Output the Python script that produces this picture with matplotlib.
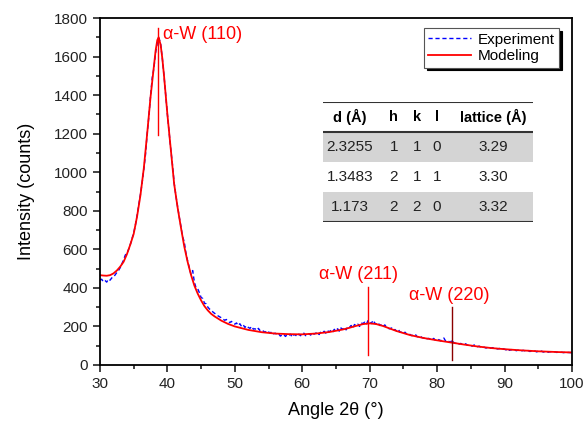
import numpy as np
import matplotlib.pyplot as plt
from matplotlib.patches import Rectangle
from matplotlib.ticker import MultipleLocator

plt.rcParams['font.family'] = ['Liberation Sans', 'DejaVu Sans']

# experiment, 0.25 deg steps from 30 to 100
exp_start, exp_step = 30.0, 0.25
exp_counts = [
    440, 445, 432, 438, 430, 445, 440, 452, 455, 468, 480, 490,
    505, 525, 545, 570, 580, 600, 625, 655, 685, 725, 775, 830,
    885, 945, 1015, 1090, 1200, 1290, 1395, 1490, 1540, 1620, 1670, 1695,
    1665, 1590, 1500, 1400, 1300, 1210, 1120, 1040, 945, 880, 825, 770,
    720, 665, 640, 580, 540, 505, 470, 490, 430, 400, 395, 375,
    350, 345, 320, 318, 300, 290, 285, 275, 268, 262, 255, 250,
    245, 238, 232, 236, 228, 220, 226, 215, 212, 218, 205, 214,
    200, 208, 195, 204, 195, 190, 200, 186, 188, 180, 190, 178,
    182, 175, 170, 178, 172, 165, 174, 162, 165, 158, 162, 150,
    155, 160, 148, 156, 152, 160, 145, 158, 155, 148, 160, 152,
    158, 165, 152, 160, 162, 155, 168, 160, 165, 170, 158, 172,
    168, 175, 165, 178, 172, 180, 170, 185, 178, 188, 175, 192,
    185, 195, 182, 198, 195, 205, 190, 210, 205, 212, 200, 218,
    215, 222, 210, 230, 225, 215, 232, 218, 212, 220, 205, 210,
    200, 208, 195, 190, 188, 192, 180, 184, 176, 185, 170, 172,
    165, 170, 160, 163, 158, 152, 155, 160, 148, 145, 150, 142,
    140, 145, 136, 138, 135, 130, 138, 128, 128, 132, 125, 135,
    140, 125, 120, 122, 118, 130, 115, 112, 115, 108, 112, 106,
    106, 110, 102, 104, 100, 98, 104, 96, 95, 98, 92, 94,
    92, 88, 91, 86, 88, 90, 84, 86, 83, 86, 80, 84,
    82, 78, 84, 76, 80, 76, 78, 74, 77, 75, 72, 76,
    74, 71, 75, 70, 72, 70, 73, 68, 71, 69, 72, 67,
    70, 68, 66, 69, 68, 66, 69, 65, 67, 65, 66, 64,
    66, 64, 65, 64, 65,
]
exp_angle = exp_start + exp_step * np.arange(len(exp_counts))

# fitted model
model_angle = [30, 30.5, 31, 31.5, 32, 32.5, 33, 33.5, 34, 34.5, 35, 35.5, 36, 36.5,
               37, 37.5, 38, 38.25, 38.5, 38.7, 39, 39.25, 39.5, 39.75, 40, 40.5,
               41, 41.5, 42, 42.5, 43, 43.5, 44, 44.5, 45, 45.5, 46, 46.5, 47, 48, 49,
               50, 52, 54, 56, 58, 60, 62, 64, 66, 67, 68, 69, 70, 71, 72, 73,
               74, 76, 78, 80, 82, 84, 86, 88, 90, 92, 95, 98, 100]
model_counts = [466, 464, 463, 466, 475, 490, 510, 535, 575, 625, 680, 770, 880, 1020,
                1200, 1390, 1550, 1630, 1685, 1700, 1660, 1590, 1500, 1400, 1300, 1120,
                940, 820, 715, 615, 535, 468, 412, 370, 335, 305, 283, 265, 252, 230, 213,
                200, 182, 170, 163, 160, 159, 163, 171, 184, 193, 203, 212, 216, 212, 202, 189,
                176, 155, 140, 128, 117, 106, 96, 88, 82, 77, 71, 67, 65]

# peak markers: position, line bottom, line top, label, label position
peak_pos = [38.65, 69.8, 82.2]
peak_lo = [1195, 50, 28]
peak_hi = [1750, 405, 300]
peak_labels = ['α-W (110)', 'α-W (211)', 'α-W (220)']
peak_label_xy = [(39.4, 1712), (62.5, 467), (75.8, 362)]

# table
tab_header = ['d (Å)', 'h', 'k', 'l', 'lattice (Å)']
tab_rows = [['2.3255', '1', '1', '0', '3.29'],
            ['1.3483', '2', '1', '1', '3.30'],
            ['1.173', '2', '2', '0', '3.32']]

fig = plt.figure(figsize=(5.86, 4.25), dpi=100)
ax = fig.add_axes([0.1706, 0.1412, 0.8054, 0.8164])

ax.plot(exp_angle, exp_counts, color='blue', ls=(0, (3, 2)), lw=1, label='Experiment')
ax.plot(model_angle, model_counts, color='red', lw=1.3, label='Modeling')

colors = ['red', 'red', '#8b0000']
for p, lo, hi, lab, xy, c in zip(peak_pos, peak_lo, peak_hi, peak_labels, peak_label_xy, colors):
    ax.plot([p, p], [lo, hi], color=c, lw=1)
    ax.text(xy[0], xy[1], lab, color='red', fontsize=13, va='center', ha='left')

ax.set_xlim(30, 100)
ax.set_ylim(0, 1800)
ax.xaxis.set_major_locator(MultipleLocator(10))
ax.xaxis.set_minor_locator(MultipleLocator(5))
ax.yaxis.set_major_locator(MultipleLocator(200))
ax.yaxis.set_minor_locator(MultipleLocator(100))
ax.tick_params(which='both', direction='out', labelsize=11, width=1.2, colors='#222222')
ax.tick_params(which='major', length=5)
ax.tick_params(which='minor', length=3)
for s in ax.spines.values():
    s.set_linewidth(1.3)
ax.set_xlabel('Angle 2θ (°)', fontsize=13, labelpad=8)
ax.set_ylabel('Intensity (counts)', fontsize=13, labelpad=14)

leg = ax.legend(loc='upper right', bbox_to_anchor=(0.9725, 0.971), borderaxespad=0,
                fancybox=False, shadow={'color': 'black', 'alpha': 1}, framealpha=1,
                edgecolor='#555555', fontsize=11, handlelength=2.8, handletextpad=0.4,
                labelspacing=0.15, borderpad=0.3)
leg.get_frame().set_linewidth(0.8)

# table drawn in its own inset
tax = fig.add_axes([0.551, 0.4776, 0.3584, 0.2824])
tax.set_xlim(0, 1)
tax.set_ylim(0, 1)
tax.axis('off')
col_x = [0.129, 0.338, 0.448, 0.543, 0.81]
for i in (0, 2):
    y0 = 0.5 - 0.25 * i
    tax.add_patch(Rectangle((0, y0), 1, 0.25, color='#d4d4d4', lw=0))
tax.axhline(1.0, color='#333333', lw=1.5)
tax.axhline(0.75, color='#333333', lw=1.5)
tax.axhline(0.0, color='#333333', lw=1.5)
for cx, h in zip(col_x, tab_header):
    tax.text(cx, 0.875, h, ha='center', va='center', fontsize=10.5, fontweight='bold')
for r, row in enumerate(tab_rows):
    yc = 0.625 - 0.25 * r
    for cx, v in zip(col_x, row):
        tax.text(cx, yc, v, ha='center', va='center', fontsize=11, color='#222222')

fig.savefig('out.png', dpi=100)
